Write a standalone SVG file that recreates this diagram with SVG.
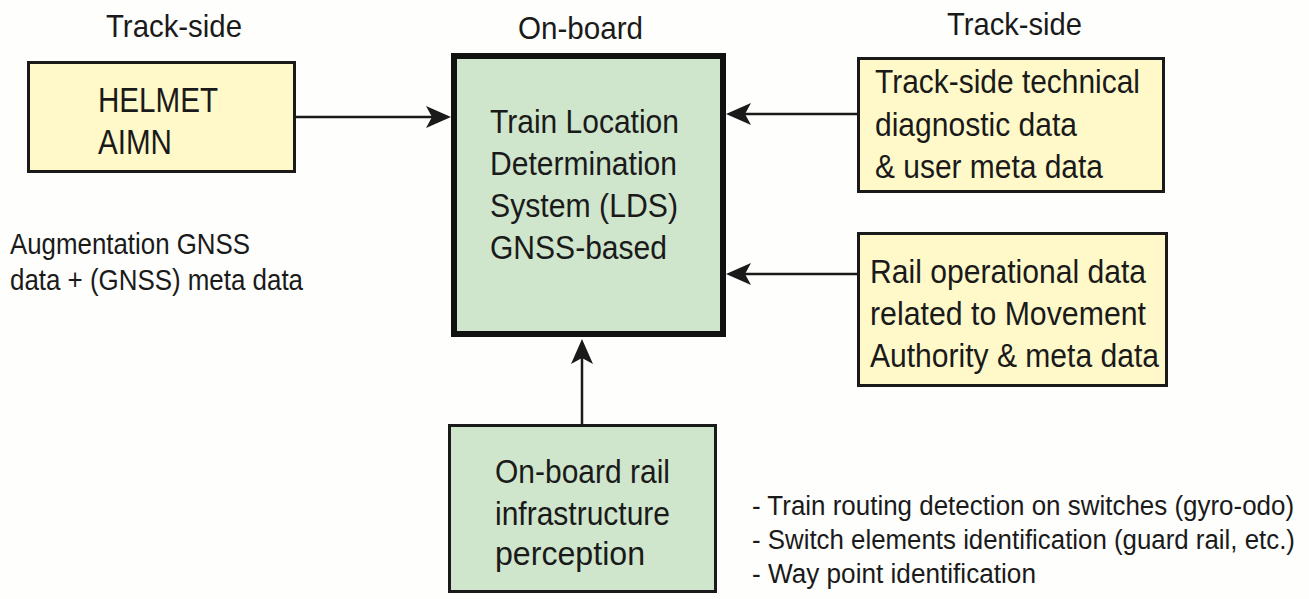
<svg xmlns="http://www.w3.org/2000/svg" width="1309" height="599" viewBox="0 0 1309 599">
  <defs>
    <style>
      text { font-family: "Liberation Sans", Arial, sans-serif; fill: #1a1a1a; }
      .hdr { font-size: 32px; }
      .lbl { font-size: 33px; }
      .big { font-size: 35px; }
      .note { font-size: 29px; }
      .bul { font-size: 28px; }
      .yel { fill: #fff9c9; stroke: #1a1a1a; stroke-width: 3; }
      .grn { fill: #cfe5cc; stroke: #1a1a1a; stroke-width: 3; }
      .main { fill: #cfe5cc; stroke: #111; stroke-width: 6; }
      .wire { fill: none; stroke: #1a1a1a; stroke-width: 2.5; }
      .head { fill: #1a1a1a; }
    </style>
    <!-- arrowhead pointing right, tip at origin -->
    <path id="ah" d="M0,0 L-25,-11 L-19,0 L-25,11 Z"/>
  </defs>

  <rect width="1309" height="599" fill="#fefefc"/>

  <!-- column headings -->
  <text class="hdr" x="106" y="37" textLength="136" lengthAdjust="spacingAndGlyphs">Track-side</text>
  <text class="hdr" x="518" y="39" textLength="125" lengthAdjust="spacingAndGlyphs">On-board</text>
  <text class="hdr" x="947" y="35" textLength="135" lengthAdjust="spacingAndGlyphs">Track-side</text>

  <!-- connectors -->
  <g id="connectors">
    <line class="wire" x1="296" y1="117" x2="432" y2="117"/>
    <use href="#ah" class="head" transform="translate(451,117)"/>
    <line class="wire" x1="857" y1="114" x2="745" y2="114"/>
    <use href="#ah" class="head" transform="translate(726,114) rotate(180)"/>
    <line class="wire" x1="857" y1="274" x2="745" y2="274"/>
    <use href="#ah" class="head" transform="translate(726,274) rotate(180)"/>
    <line class="wire" x1="582" y1="424" x2="582" y2="358"/>
    <use href="#ah" class="head" transform="translate(582,339) rotate(-90)"/>
  </g>

  <g id="helmet">
    <rect class="yel" x="28.5" y="62.5" width="266" height="109"/>
    <text class="big" x="98" y="112" textLength="120" lengthAdjust="spacingAndGlyphs">HELMET</text>
    <text class="big" x="98" y="154" textLength="74" lengthAdjust="spacingAndGlyphs">AIMN</text>
  </g>

  <g id="augmentation">
    <text class="note" x="10" y="254" textLength="240" lengthAdjust="spacingAndGlyphs">Augmentation GNSS</text>
    <text class="note" x="10" y="290" textLength="293" lengthAdjust="spacingAndGlyphs">data + (GNSS) meta data</text>
  </g>

  <g id="lds">
    <rect class="main" x="454" y="56" width="269" height="278"/>
    <text class="lbl" x="490" y="133" textLength="189" lengthAdjust="spacingAndGlyphs">Train Location</text>
    <text class="lbl" x="490" y="175" textLength="187" lengthAdjust="spacingAndGlyphs">Determination</text>
    <text class="lbl" x="490" y="217" textLength="188" lengthAdjust="spacingAndGlyphs">System (LDS)</text>
    <text class="lbl" x="490" y="259" textLength="177" lengthAdjust="spacingAndGlyphs">GNSS-based</text>
  </g>

  <g id="diagnostic">
    <rect class="yel" x="858.5" y="58.5" width="305" height="133"/>
    <text class="lbl" x="875" y="93" textLength="265" lengthAdjust="spacingAndGlyphs">Track-side technical</text>
    <text class="lbl" x="875" y="136" textLength="202" lengthAdjust="spacingAndGlyphs">diagnostic data</text>
    <text class="lbl" x="875" y="178" textLength="228" lengthAdjust="spacingAndGlyphs">&amp; user meta data</text>
  </g>

  <g id="operational">
    <rect class="yel" x="858.5" y="233.5" width="308" height="152"/>
    <text class="lbl" x="870" y="283" textLength="276" lengthAdjust="spacingAndGlyphs">Rail operational data</text>
    <text class="lbl" x="870" y="325" textLength="276" lengthAdjust="spacingAndGlyphs">related to Movement</text>
    <text class="lbl" x="870" y="367" textLength="289" lengthAdjust="spacingAndGlyphs">Authority &amp; meta data</text>
  </g>

  <g id="perception">
    <rect class="grn" x="449.5" y="425.5" width="266" height="166"/>
    <text class="lbl" x="495" y="483" textLength="175" lengthAdjust="spacingAndGlyphs">On-board rail</text>
    <text class="lbl" x="495" y="525" textLength="175" lengthAdjust="spacingAndGlyphs">infrastructure</text>
    <text class="lbl" x="495" y="565" textLength="150" lengthAdjust="spacingAndGlyphs">perception</text>
  </g>

  <!-- condensed list of perception functions -->
  <g id="functions" transform="translate(752,0) scale(0.925,1) translate(-752,0)">
    <text class="bul" x="752" y="515" textLength="586" lengthAdjust="spacingAndGlyphs">- Train routing detection on switches (gyro-odo)</text>
    <text class="bul" x="752" y="549" textLength="587" lengthAdjust="spacingAndGlyphs">- Switch elements identification (guard rail, etc.)</text>
    <text class="bul" x="752" y="583" textLength="307" lengthAdjust="spacingAndGlyphs">- Way point identification</text>
  </g>
</svg>
